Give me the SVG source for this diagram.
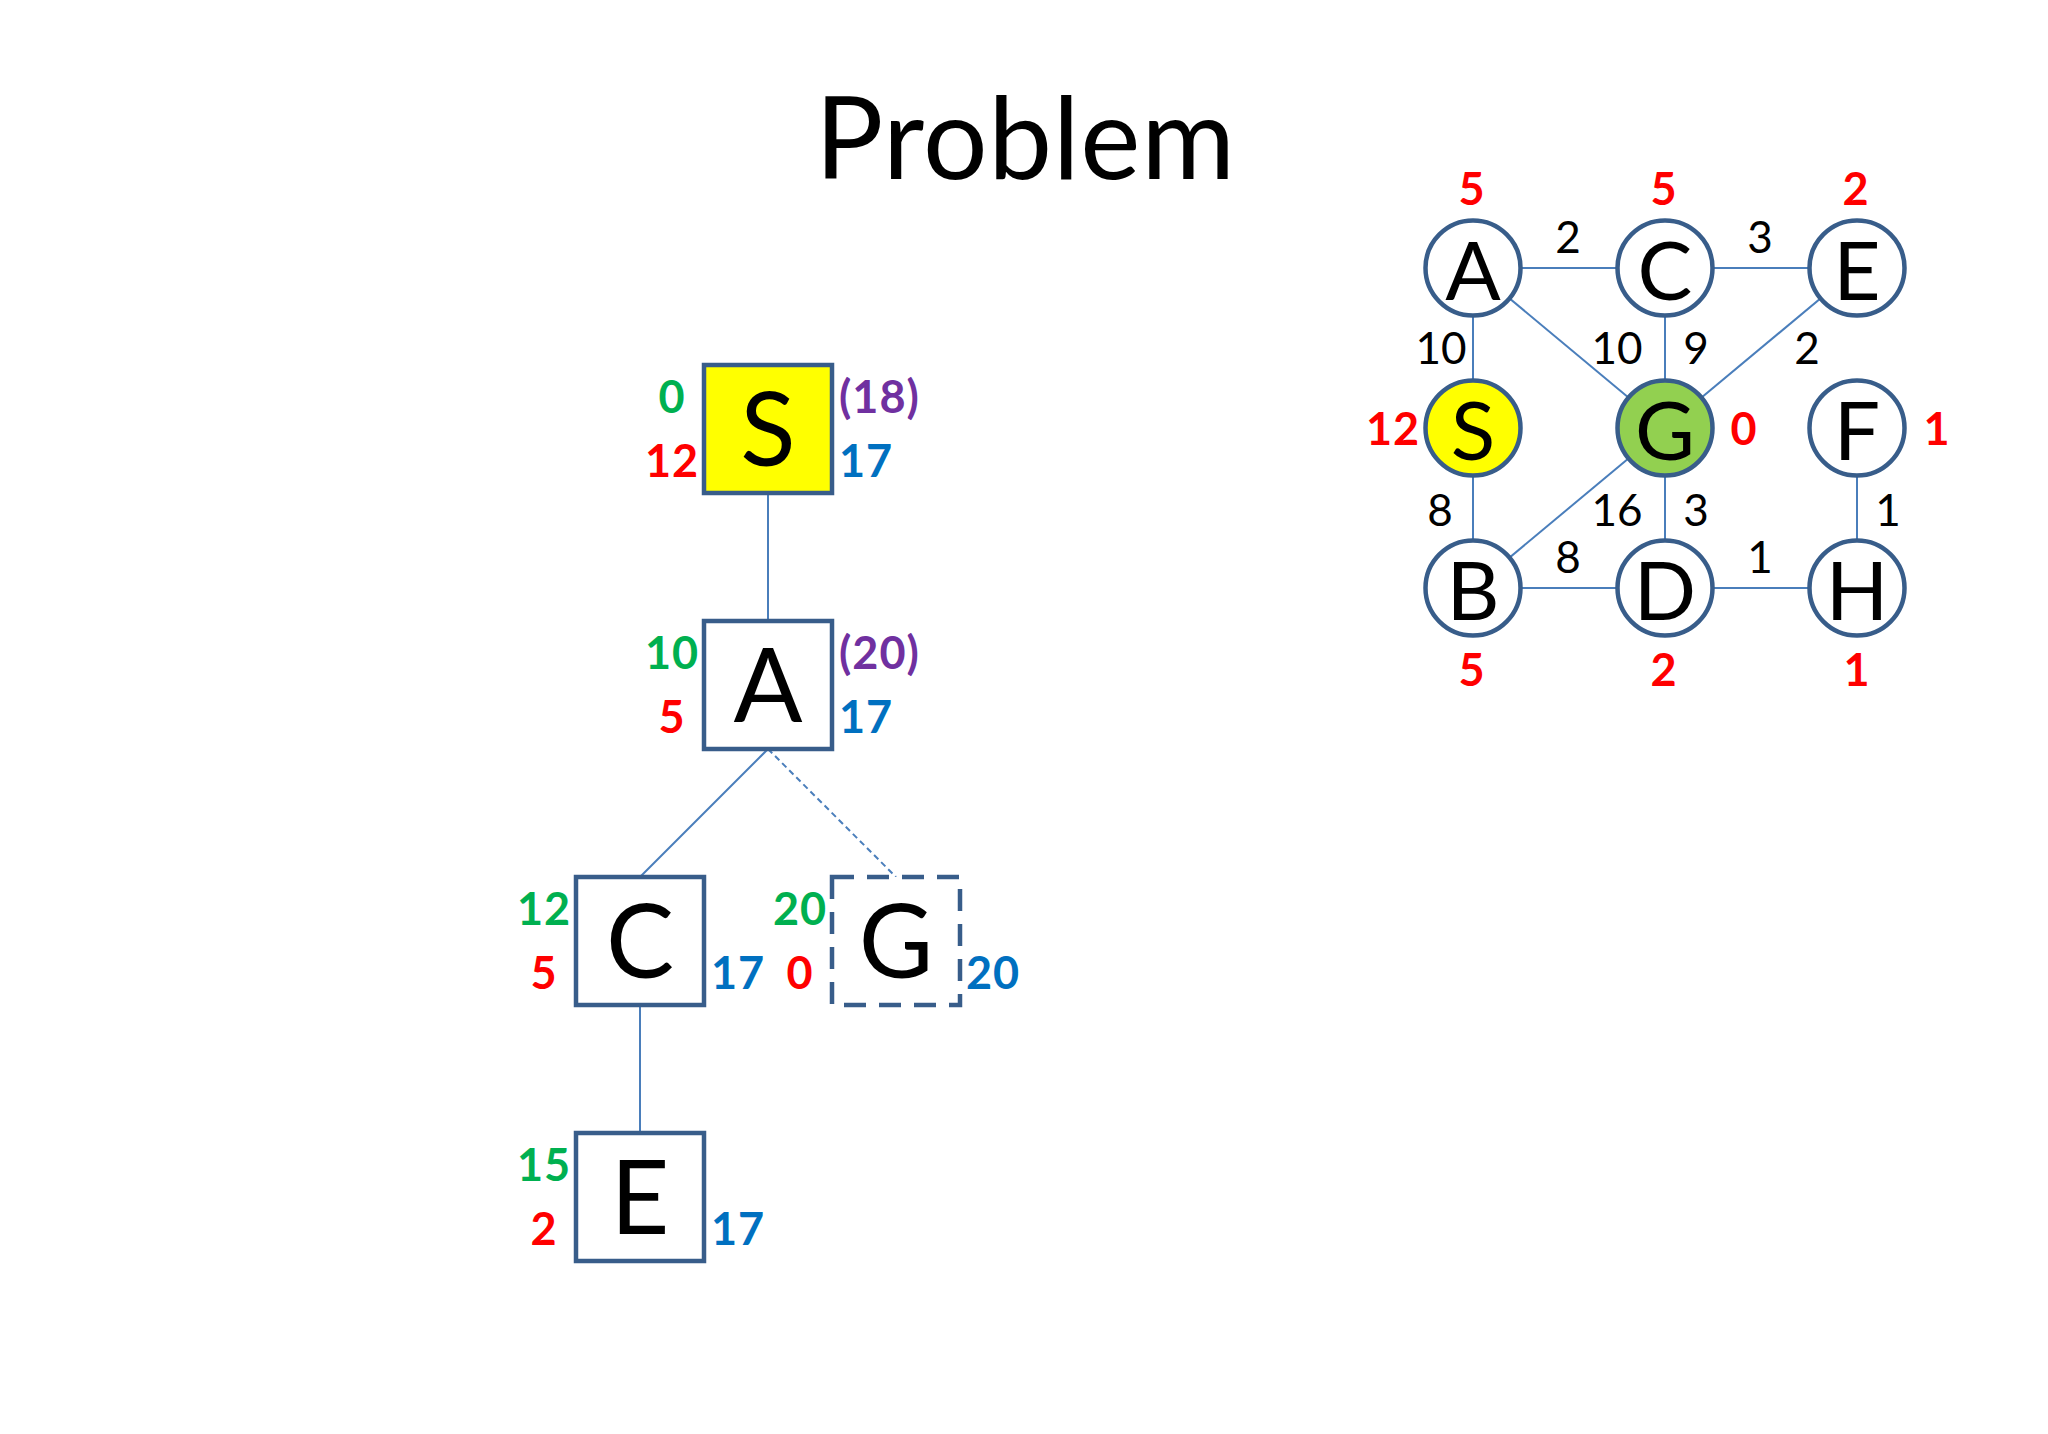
<svg xmlns="http://www.w3.org/2000/svg" width="2048" height="1434" viewBox="0 0 2048 1434">
<style>
text{font-family:Lato,"Liberation Sans",sans-serif}
.box{fill:#fff;stroke:#385D8A;stroke-width:4.5}
.dbox{fill:#fff;stroke:#385D8A;stroke-width:4.5;stroke-dasharray:22 13}
.big{font-size:102px;text-anchor:middle;fill:#000}
.cl{font-size:82px;text-anchor:middle;fill:#000}
.circ{fill:#fff;stroke:#385D8A;stroke-width:4.5}
.ln{stroke:#4A7EBB;stroke-width:2;fill:none}
.dl{stroke:#4A7EBB;stroke-width:2;fill:none;stroke-dasharray:6 4}
.lb{font-size:45px;font-weight:bold;letter-spacing:1px}
.c{text-anchor:middle}
.g{fill:#00B050}.r{fill:#FF0000}.b{fill:#0070C0}.p{fill:#7030A0}
.ew{font-size:44px;fill:#000;text-anchor:middle}
</style>
<rect width="2048" height="1434" fill="#fff"/>
<text x="1025" y="179" font-size="114" text-anchor="middle" fill="#000" textLength="420">Problem</text>
<g id="tree-connectors">
<line class="ln" x1="768" y1="493" x2="768" y2="621"/>
<line class="ln" x1="768" y1="749" x2="640" y2="877"/>
<line class="dl" x1="768" y1="749" x2="896" y2="877"/>
<line class="ln" x1="640" y1="1005" x2="640" y2="1133"/>
</g>
<g id="tS">
<rect x="704" y="365" width="128" height="128" class="box" style="fill:#FFFF00"/>
<text class="big" x="768" y="466">S</text>
<text class="lb c g" x="672" y="413">0</text>
<text class="lb c r" x="672" y="477">12</text>
<text class="lb p" x="839" y="413">(18)</text>
<text class="lb b" x="839" y="477">17</text>
</g>
<g id="tA">
<rect x="704" y="621" width="128" height="128" class="box"/>
<text class="big" x="768" y="722">A</text>
<text class="lb c g" x="672" y="669">10</text>
<text class="lb c r" x="672" y="733">5</text>
<text class="lb p" x="839" y="669">(20)</text>
<text class="lb b" x="839" y="733">17</text>
</g>
<g id="tC">
<rect x="576" y="877" width="128" height="128" class="box"/>
<text class="big" x="640" y="978">C</text>
<text class="lb c g" x="544" y="925">12</text>
<text class="lb c r" x="544" y="989">5</text>
<text class="lb b" x="711" y="989">17</text>
</g>
<g id="tG">
<rect x="832" y="877" width="128" height="128" class="dbox"/>
<text class="big" x="896" y="978">G</text>
<text class="lb c g" x="800" y="925">20</text>
<text class="lb c r" x="800" y="989">0</text>
<text class="lb b" x="966" y="989">20</text>
</g>
<g id="tE">
<rect x="576" y="1133" width="128" height="128" class="box"/>
<text class="big" x="640" y="1234">E</text>
<text class="lb c g" x="544" y="1181">15</text>
<text class="lb c r" x="544" y="1245">2</text>
<text class="lb b" x="711" y="1245">17</text>
</g>
<g id="graph-edges">
<line class="ln" x1="1473" y1="268" x2="1665" y2="268"/>
<line class="ln" x1="1665" y1="268" x2="1857" y2="268"/>
<line class="ln" x1="1473" y1="268" x2="1473" y2="588"/>
<line class="ln" x1="1665" y1="268" x2="1665" y2="588"/>
<line class="ln" x1="1473" y1="268" x2="1665" y2="428"/>
<line class="ln" x1="1857" y1="268" x2="1665" y2="428"/>
<line class="ln" x1="1473" y1="588" x2="1665" y2="428"/>
<line class="ln" x1="1473" y1="588" x2="1857" y2="588"/>
<line class="ln" x1="1857" y1="428" x2="1857" y2="588"/>
</g>
<g id="edge-labels">
<text class="ew" x="1568" y="253">2</text>
<text class="ew" x="1760" y="253">3</text>
<text class="ew" x="1441" y="364">10</text>
<text class="ew" x="1617" y="364">10</text>
<text class="ew" x="1696" y="364">9</text>
<text class="ew" x="1807" y="364">2</text>
<text class="ew" x="1440" y="526">8</text>
<text class="ew" x="1617" y="526">16</text>
<text class="ew" x="1696" y="526">3</text>
<text class="ew" x="1888" y="526">1</text>
<text class="ew" x="1568" y="573">8</text>
<text class="ew" x="1760" y="573">1</text>
</g>
<g id="nA"><circle class="circ" cx="1473" cy="268" r="47.5"/><text class="cl" x="1473" y="300">A</text><text class="lb c r" x="1472" y="205">5</text></g>
<g id="nC"><circle class="circ" cx="1665" cy="268" r="47.5"/><text class="cl" x="1665" y="300">C</text><text class="lb c r" x="1664" y="205">5</text></g>
<g id="nE"><circle class="circ" cx="1857" cy="268" r="47.5"/><text class="cl" x="1857" y="300">E</text><text class="lb c r" x="1856" y="205">2</text></g>
<g id="nS"><circle class="circ" cx="1473" cy="428" r="47.5" style="fill:#FFFF00"/><text class="cl" x="1473" y="460">S</text><text class="lb c r" x="1393" y="445">12</text></g>
<g id="nG"><circle class="circ" cx="1665" cy="428" r="47.5" style="fill:#92D050"/><text class="cl" x="1665" y="460">G</text><text class="lb c r" x="1744" y="445">0</text></g>
<g id="nF"><circle class="circ" cx="1857" cy="428" r="47.5"/><text class="cl" x="1857" y="460">F</text><text class="lb c r" x="1937" y="445">1</text></g>
<g id="nB"><circle class="circ" cx="1473" cy="588" r="47.5"/><text class="cl" x="1473" y="620">B</text><text class="lb c r" x="1472" y="686">5</text></g>
<g id="nD"><circle class="circ" cx="1665" cy="588" r="47.5"/><text class="cl" x="1665" y="620">D</text><text class="lb c r" x="1664" y="686">2</text></g>
<g id="nH"><circle class="circ" cx="1857" cy="588" r="47.5"/><text class="cl" x="1857" y="620">H</text><text class="lb c r" x="1857" y="686">1</text></g>
</svg>
